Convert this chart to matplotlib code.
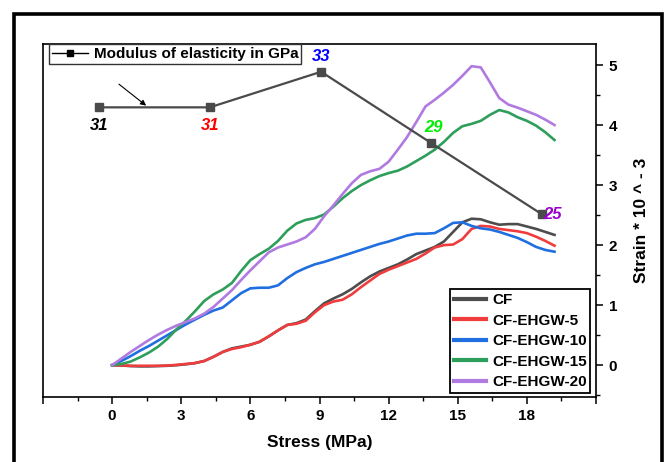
import numpy as np
import matplotlib
matplotlib.use("Agg")
import matplotlib.pyplot as plt
from matplotlib.patches import Rectangle
from matplotlib.ticker import MultipleLocator, FixedLocator, FixedFormatter

plt.rcParams['font.family'] = ['Liberation Sans', 'DejaVu Sans']
plt.rcParams['font.weight'] = 'bold'

# stress grid (MPa) and strain (*10^-3)
stress = [0.0, 0.4, 0.8, 1.2, 1.6, 2.0, 2.4, 2.8, 3.2, 3.6, 4.0, 4.4, 4.8, 5.2, 5.6,
          6.0, 6.4, 6.8, 7.2, 7.6, 8.0, 8.4, 8.8, 9.2, 9.6, 10.0, 10.4, 10.8, 11.2,
          11.6, 12.0, 12.4, 12.8, 13.2, 13.6, 14.0, 14.4, 14.8, 15.2, 15.6, 16.0,
          16.4, 16.8, 17.2, 17.6, 18.0, 18.4, 18.8, 19.2]

cf = [0, -0.005, -0.015, -0.02, -0.02, -0.015, -0.01, 0.0, 0.015, 0.035, 0.07, 0.14,
      0.22, 0.28, 0.31, 0.34, 0.39, 0.48, 0.58, 0.67, 0.70, 0.76, 0.90, 1.03, 1.11,
      1.18, 1.27, 1.38, 1.48, 1.56, 1.62, 1.68, 1.76, 1.85, 1.91, 1.97, 2.06, 2.22,
      2.38, 2.44, 2.43, 2.38, 2.34, 2.35, 2.35, 2.31, 2.27, 2.22, 2.17]
cf_5 = [0, -0.005, -0.01, -0.01, -0.01, -0.01, -0.005, 0.005, 0.02, 0.035, 0.07, 0.14,
        0.22, 0.27, 0.30, 0.34, 0.39, 0.48, 0.58, 0.67, 0.69, 0.74, 0.88, 1.00, 1.06,
        1.09, 1.18, 1.30, 1.41, 1.52, 1.59, 1.65, 1.71, 1.77, 1.86, 1.96, 2.00, 2.01,
        2.10, 2.27, 2.32, 2.31, 2.27, 2.25, 2.23, 2.20, 2.14, 2.07, 1.99]
cf_10 = [0, 0.07, 0.15, 0.24, 0.32, 0.41, 0.50, 0.59, 0.68, 0.76, 0.84, 0.91, 0.96,
         1.08, 1.20, 1.28, 1.29, 1.29, 1.33, 1.45, 1.55, 1.62, 1.68, 1.72, 1.77, 1.82,
         1.87, 1.92, 1.97, 2.02, 2.06, 2.11, 2.16, 2.19, 2.19, 2.20, 2.28, 2.37, 2.38,
         2.32, 2.28, 2.26, 2.22, 2.17, 2.12, 2.05, 1.97, 1.92, 1.89]
cf_15 = [0, 0.02, 0.06, 0.13, 0.21, 0.31, 0.44, 0.60, 0.74, 0.90, 1.07, 1.18, 1.26,
         1.37, 1.57, 1.75, 1.85, 1.94, 2.07, 2.24, 2.36, 2.42, 2.45, 2.51, 2.64, 2.78,
         2.90, 3.00, 3.08, 3.15, 3.20, 3.24, 3.31, 3.40, 3.49, 3.59, 3.72, 3.87, 3.98,
         4.02, 4.07, 4.17, 4.25, 4.21, 4.13, 4.07, 3.99, 3.88, 3.75]
cf_20 = [0, 0.11, 0.22, 0.32, 0.42, 0.51, 0.59, 0.66, 0.72, 0.78, 0.86, 0.97, 1.11,
         1.25, 1.42, 1.58, 1.73, 1.88, 1.96, 2.01, 2.06, 2.13, 2.27, 2.48, 2.66, 2.85,
         3.03, 3.17, 3.23, 3.27, 3.39, 3.59, 3.80, 4.05, 4.31, 4.42, 4.54, 4.67, 4.82,
         4.98, 4.96, 4.71, 4.45, 4.34, 4.29, 4.23, 4.17, 4.09, 4.00]

names = ['CF', 'CF-EHGW-5', 'CF-EHGW-10', 'CF-EHGW-15', 'CF-EHGW-20']
colors = ['#4d4d4d', '#f03c3c', '#1f6fe0', '#2e9e5b', '#b07ae0']

# modulus of elasticity (GPa), one per sample
modulus_x = [-0.58, 4.24, 9.07, 13.84, 18.64]
modulus = [31, 31, 33, 29, 25]
modulus_colors = ['black', '#ff0000', '#0000ff', '#00ee00', '#9900cc']

fig = plt.figure(figsize=(6.64, 4.62), dpi=100)
ax = fig.add_axes([43 / 664, 1 - 397 / 462, (596 - 43) / 664, (397 - 44) / 462])
ax2 = ax.twinx()

for y, name, c in zip([cf, cf_5, cf_10, cf_15, cf_20], names, colors):
    ax.plot(stress, y, color=c, lw=1.9, label=name)

ax.set_xlim(-3, 21)
ax.set_ylim(-0.53, 5.35)
ax.yaxis.tick_right()
ax.yaxis.set_label_position('right')
ax.xaxis.set_major_locator(FixedLocator(range(-3, 22, 3)))
ax.xaxis.set_major_formatter(FixedFormatter([''] + [str(v) for v in range(0, 19, 3)] + ['']))
ax.xaxis.set_minor_locator(MultipleLocator(1.5))
ax.yaxis.set_major_locator(MultipleLocator(1))
ax.yaxis.set_minor_locator(MultipleLocator(0.5))
ax.tick_params(which='major', direction='out', length=5, width=1.1, labelsize=11, pad=4)
ax.tick_params(which='minor', direction='out', length=3, width=1.0)
for s in ax.spines.values():
    s.set_linewidth(1.2)
ax.set_xlabel('Stress (MPa)', fontsize=12.5, fontweight='bold', labelpad=8)
ax.set_ylabel('Strain * 10 ^ - 3', fontsize=12.5, fontweight='bold', labelpad=12)

leg = ax.legend(loc='lower right', bbox_to_anchor=(0.99, 0.012), fontsize=11,
                handlelength=2.1, handletextpad=0.4, borderpad=0.25, labelspacing=0.42,
                fancybox=False, framealpha=1, edgecolor='black', borderaxespad=0)
leg.get_frame().set_linewidth(1.3)
for line in leg.get_lines():
    line.set_linewidth(3)

# modulus line on a hidden twin axis
ax2.set_ylim(14.72, 34.56)
ax2.set_yticks([])
ax2.tick_params(which='both', right=False, left=False, labelright=False, labelleft=False)
for s in ax2.spines.values():
    s.set_visible(False)
ax2.plot(modulus_x, modulus, color='#4a4a4a', lw=1.6, marker='s', markersize=6,
         label='Modulus of elasticity in GPa')

offsets = [(0, -13, 'center', 'center'), (0, -13, 'center', 'center'),
           (0, 11, 'center', 'center'), (2, 11, 'center', 'center'),
           (1, 0, 'left', 'center')]
for x, m, c, (dx, dy, ha, va) in zip(modulus_x, modulus, modulus_colors, offsets):
    ax2.annotate(str(m), (x, m), xytext=(dx, dy), textcoords='offset points',
                 ha=ha, va=va, color=c, fontsize=12, fontweight='bold', style='italic')

leg2 = ax2.legend(loc='upper left', bbox_to_anchor=(0.01, 1.0), fontsize=11,
                  handlelength=2.4, handletextpad=0.35, borderpad=0.2,
                  fancybox=False, framealpha=1, edgecolor='#333333', borderaxespad=0)
leg2.get_frame().set_linewidth(1.0)
for line in leg2.get_lines():
    line.set_color('black')
    line.set_linewidth(1.0)
    line.set_markersize(5)

# arrow from legend to the line
ax2.annotate('', xy=(1.57, 31), xytext=(0.2, 32.4),
             arrowprops=dict(arrowstyle='-|>', color='black', lw=0.8, mutation_scale=8))

# outer frame
fig.patches.append(Rectangle((14 / 664, -0.05), (662 - 14) / 664, 1.05 - 13.5 / 462,
                             transform=fig.transFigure, fill=False, lw=2.6,
                             edgecolor='black'))

fig.savefig('out.png', dpi=100)
